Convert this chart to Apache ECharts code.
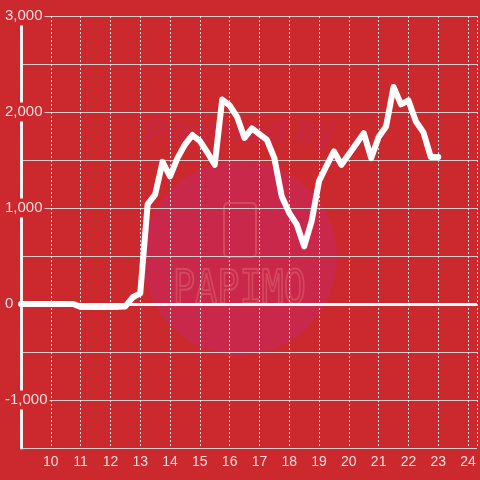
<!DOCTYPE html>
<html>
<head>
<meta charset="utf-8">
<script src="https://cdn.jsdelivr.net/npm/echarts@6/dist/echarts.min.js"></script>
<style>html,body{margin:0;padding:0;background:#cc292e;}#c{width:480px;height:480px;}</style>
</head>
<body>
<div id="c"></div>
<script>
const hours = [9,9.25,9.5,9.75,10,10.25,10.5,10.75,
  11,11.25,11.5,11.75,12,12.25,12.5,12.75,
  13,13.25,13.5,13.75,14,14.25,14.5,14.75,
  15,15.25,15.5,15.75,16,16.25,16.5,16.75,
  17,17.25,17.5,17.75,18,18.25,18.5,18.75,
  19,19.25,19.5,19.75,20,20.25,20.5,20.75,
  21,21.25,21.5,21.75,22,22.25,22.5,22.75,23];
const values = [0,0,0,0,0,0,0,0,
  -30,-30,-30,-30,-30,-30,-25,70,
  110,1040,1140,1480,1330,1520,1660,1760,
  1700,1580,1450,2130,2070,1950,1730,1830,
  1770,1710,1520,1120,950,830,600,860,
  1280,1440,1590,1450,1560,1670,1780,1520,
  1740,1850,2260,2080,2120,1900,1790,1530,1530];
const xTicks = [10,11,12,13,14,15,16,17,18,19,20,21,22,23,24];
const yTickLabels = [-1000,0,1000,2000,3000];

const chart = echarts.init(document.getElementById('c'), null, {renderer:'canvas'});
const bg = '#cc292e';
const labelColor = '#f2dede';
const font = 'Liberation Sans, Arial, sans-serif';
chart.setOption({
  backgroundColor: bg,
  animation: false,
  grid: {left: 21, right: 0, top: 16, bottom: 32, containLabel: false},
  graphic: [
    {type:'circle', z:-10, shape:{cx:240, cy:258, r:97}, style:{fill:'#c9284a'}, silent:true},
    {type:'text', z:-9, left:'center', top:116, style:{text:'Powered by', font:'italic bold 34px Liberation Sans, Arial, sans-serif', fill:'#c7273f'}, silent:true},
    {type:'rect', z:-9, shape:{x:224, y:203, width:32, height:54, r:4}, style:{fill:'none', stroke:'#d34a5e', lineWidth:2}, silent:true},
    {type:'text', z:-9, x:173, y:291, scaleX:0.8, scaleY:1, originX:0, originY:0,
      style:{x:0, y:0, text:'PAPIMO', font:'normal 46px DejaVu Sans Mono, monospace', fill:'none', stroke:'#d34a5e', lineWidth:2, align:'left', verticalAlign:'middle'}, silent:true}
  ],
  xAxis: {
    type: 'value', min: 9, max: 24.3, interval: 1,
    axisLine: {show: true, lineStyle: {color: '#cccccc', width: 1}},
    axisTick: {show: false},
    axisLabel: {
      showMinLabel: false, showMaxLabel: true,
      color: labelColor, fontSize: 14, fontFamily: font, margin: 7,
      formatter: v => xTicks.indexOf(v) >= 0 ? String(v) : ''
    },
    splitLine: {show: true, lineStyle: {color: '#e6e6e6', width: 1, type: [2, 2]}}
  },
  yAxis: {
    type: 'value', min: -1500, max: 3000, interval: 500,
    axisLine: {show: true, onZero: false, lineStyle: {color: '#f2f2f2', width: 3}},
    axisTick: {show: false},
    axisLabel: {
      color: labelColor, fontSize: 15, fontFamily: font, align: 'left', margin: 16,
      backgroundColor: bg, padding: [2, 2, 2, 0],
      formatter: v => yTickLabels.indexOf(v) >= 0 ? v.toLocaleString('en-US') : ''
    },
    splitLine: {show: true, lineStyle: {color: '#cccccc', width: 1}}
  },
  series: [{
    type: 'line',
    data: hours.map((h, i) => [h, values[i]]),
    showSymbol: false, symbol: 'none',
    lineStyle: {color: '#ffffff', width: 6, join: 'round', cap: 'round'},
    markLine: {
      silent: true, symbol: ['none', 'none'], label: {show: false},
      lineStyle: {color: '#ffffff', width: 3, type: 'solid'},
      data: [{yAxis: 0}]
    },
    z: 3
  }]
});
</script>
</body>
</html>
